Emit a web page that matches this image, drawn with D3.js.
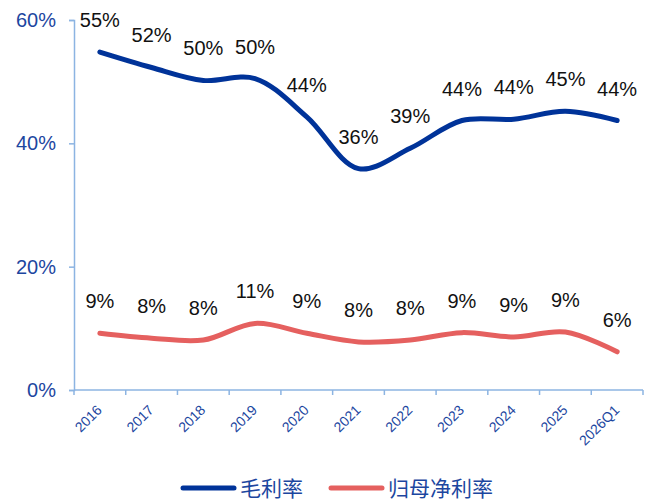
<!DOCTYPE html>
<html>
<head>
<meta charset="utf-8">
<script src="https://cdn.jsdelivr.net/npm/d3@7/dist/d3.min.js"></script>
<style>
  body { margin: 0; background: #fff; }
  text { font-family: Arial, "Liberation Sans", sans-serif; }
</style>
</head>
<body>
<div id="chart"></div>
<script>
// data
const years = ["2016","2017","2018","2019","2020","2021","2022","2023","2024","2025","2026Q1"];
const grossMargin = [0.548, 0.523, 0.502, 0.505, 0.443, 0.359, 0.392, 0.437, 0.439, 0.452, 0.437];
const netMargin = [0.092, 0.084, 0.081, 0.108, 0.092, 0.078, 0.081, 0.093, 0.086, 0.094, 0.062];
const grossLabels = ["55%","52%","50%","50%","44%","36%","39%","44%","44%","45%","44%"];
const netLabels = ["9%","8%","8%","11%","9%","8%","8%","9%","9%","9%","6%"];
const yTicks = [0, 0.2, 0.4, 0.6];
const seriesNames = ["毛利率", "归母净利率"];

const width = 653, height = 504;
const axisColor = "#8cb4e2";
const textBlue = "#1c46a0";
const blue = "#003399";
const red = "#e5605f";

let svg = d3.select("#chart").append("svg")
  .attr("width", width)
  .attr("height", height);

let xScale = d3.scaleBand()
  .domain(years)
  .range([74, 643]);

let yScale = d3.scaleLinear()
  .domain([0, 0.6])
  .range([390, 20]);

// y axis
let yAxis = svg.append("g")
  .attr("transform", "translate(74,0)")
  .call(d3.axisLeft(yScale).tickValues(yTicks).tickFormat(d3.format(".0%")).tickSize(5).tickPadding(13));
yAxis.select(".domain").attr("stroke", axisColor).attr("stroke-width", 1.5);
yAxis.selectAll(".tick line").attr("stroke", axisColor).attr("stroke-width", 1.5);
yAxis.selectAll(".tick text")
  .attr("fill", textBlue)
  .style("font-size", "20px");

// x axis line and ticks at category boundaries
let xAxisG = svg.append("g").attr("transform", "translate(0,390)");
xAxisG.append("line")
  .attr("x1", xScale.range()[0]).attr("x2", xScale.range()[1])
  .attr("y1", 0).attr("y2", 0)
  .attr("stroke", axisColor).attr("stroke-width", 1.5);
let bounds = years.map(d => xScale(d)).concat([xScale.range()[1]]);
xAxisG.selectAll(".xtick")
  .data(bounds)
  .enter().append("line")
  .attr("class", "xtick")
  .attr("x1", d => d).attr("x2", d => d)
  .attr("y1", 0).attr("y2", 5)
  .attr("stroke", axisColor).attr("stroke-width", 1.5);
xAxisG.selectAll(".xlabel")
  .data(years)
  .enter().append("text")
  .attr("class", "xlabel")
  .attr("text-anchor", "end")
  .attr("transform", d => `translate(${xScale(d) + xScale.bandwidth() / 2 + 3}, 21) rotate(-45)`)
  .attr("fill", textBlue)
  .style("font-size", "14px")
  .text(d => d);

// lines
let line = d3.line()
  .x((d, i) => xScale(years[i]) + xScale.bandwidth() / 2)
  .y(d => yScale(d))
  .curve(d3.curveCatmullRom.alpha(0.5));

svg.append("path")
  .datum(netMargin)
  .attr("d", line)
  .attr("fill", "none")
  .attr("stroke", red)
  .attr("stroke-width", 5)
  .attr("stroke-linecap", "round");

svg.append("path")
  .datum(grossMargin)
  .attr("d", line)
  .attr("fill", "none")
  .attr("stroke", blue)
  .attr("stroke-width", 5)
  .attr("stroke-linecap", "round");

// data labels
function addLabels(values, labels) {
  svg.selectAll(null)
    .data(values)
    .enter().append("text")
    .attr("text-anchor", "middle")
    .attr("x", (d, i) => xScale(years[i]) + xScale.bandwidth() / 2)
    .attr("y", d => yScale(d) - 25)
    .attr("fill", "#111")
    .style("font-size", "20px")
    .text((d, i) => labels[i]);
}
addLabels(grossMargin, grossLabels);
addLabels(netMargin, netLabels);

// legend
let legend = svg.append("g").attr("transform", "translate(0,488)");
let legendItems = [
  {name: seriesNames[0], color: blue, x: 183},
  {name: seriesNames[1], color: red, x: 331}
];
legendItems.forEach(function (item) {
  legend.append("line")
    .attr("x1", item.x).attr("x2", item.x + 51)
    .attr("y1", 0).attr("y2", 0)
    .attr("stroke", item.color)
    .attr("stroke-width", 5)
    .attr("stroke-linecap", "round");
  legend.append("text")
    .attr("x", item.x + 57)
    .attr("y", 8)
    .attr("fill", textBlue)
    .style("font-size", "21px")
    .style("font-family", "'Noto Sans CJK SC', sans-serif")
    .text(item.name);
});
</script>
</body>
</html>
